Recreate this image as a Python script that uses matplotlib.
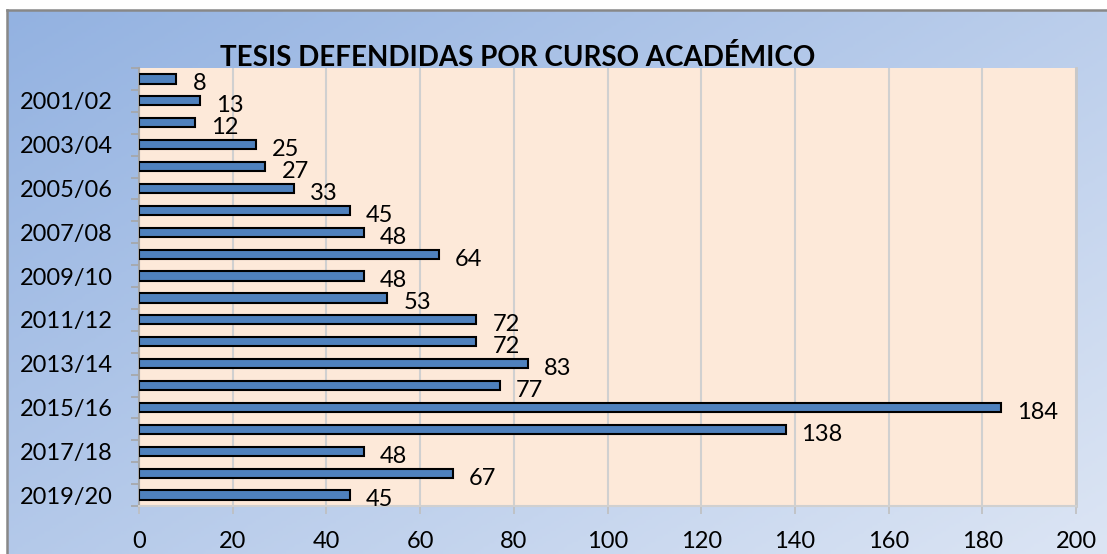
import numpy as np
import matplotlib
matplotlib.use('Agg')
import matplotlib.pyplot as plt
from matplotlib.colors import LinearSegmentedColormap
from matplotlib.lines import Line2D

# ── Data ──
cursos = ['2000/01', '2001/02', '2002/03', '2003/04', '2004/05', '2005/06',
          '2006/07', '2007/08', '2008/09', '2009/10', '2010/11', '2011/12',
          '2012/13', '2013/14', '2014/15', '2015/16', '2016/17', '2017/18',
          '2018/19', '2019/20']
tesis = [8, 13, 12, 25, 27, 33, 45, 48, 64, 48, 53, 72, 72, 83, 77, 184, 138,
         48, 67, 45]
titulo = 'TESIS DEFENDIDAS POR CURSO ACADÉMICO'

plt.rcParams['font.family'] = ['Lato', 'DejaVu Sans']

W, H = 1107, 554
fig = plt.figure(figsize=(W / 100, H / 100), dpi=100)
fig.patch.set_facecolor('white')

# ── Chart area: blue diagonal gradient with grey border ──
bg = fig.add_axes([7 / W, 0, (W - 7) / W, (H - 10) / H])
cmap = LinearSegmentedColormap.from_list('bg', ['#93B2E1', '#DCE5F4'])
yy, xx = np.mgrid[0:1:200j, 0:1:400j]
grad = 0.55 * xx + 0.45 * yy
bg.imshow(grad, cmap=cmap, aspect='auto', extent=[0, 1, 1, 0], origin='upper')
bg.set_xlim(0, 1)
bg.set_ylim(1, 0)
bg.axis('off')
fig.add_artist(Line2D([7 / W, 7 / W], [0, 1 - 10 / H], color='#888888',
                      linewidth=1.8, transform=fig.transFigure))
fig.add_artist(Line2D([7 / W, 1], [1 - 10 / H, 1 - 10 / H], color='#888888',
                      linewidth=1.8, transform=fig.transFigure))

# ── Plot area ──
x0, x1 = 139, 1076
y0, y1 = 68, 506
ax = fig.add_axes([x0 / W, 1 - y1 / H, (x1 - x0) / W, (y1 - y0) / H])
ax.set_facecolor('#FDE9D9')

ypos = np.arange(len(cursos))
ax.barh(ypos, tesis, height=0.42, color='#4F81BD', edgecolor='black',
        linewidth=1.5, zorder=3)

for y, v in zip(ypos, tesis):
    ax.annotate(str(v), (v, y), xytext=(11.5, -3.5), textcoords='offset points',
                ha='left', va='center', fontsize=17, color='black', zorder=4)

ax.set_xlim(0, 200)
ax.set_ylim(len(cursos) - 0.5, -0.5)
ax.set_xticks(np.arange(0, 201, 20))
ax.tick_params(axis='x', length=6, width=1.2, color='#BFBFBF', pad=12,
               labelsize=17)
ax.set_yticks(ypos[1::2])
ax.set_yticklabels(cursos[1::2])
ax.set_yticks(np.arange(-0.5, len(cursos)), minor=True)
ax.tick_params(axis='y', which='major', length=0, pad=19, labelsize=17)
ax.tick_params(axis='y', which='minor', length=6, width=1.2, color='#A6A6A6')
ax.xaxis.grid(True, color='#D0D0D0', linewidth=1.5, zorder=0)
ax.set_axisbelow(True)

ax.spines['top'].set_visible(False)
ax.spines['right'].set_color('#C8C8C8')
ax.spines['right'].set_linewidth(2)
ax.spines['left'].set_color('#A6A6A6')
ax.spines['left'].set_linewidth(1.5)
ax.spines['bottom'].set_color('#D0D0D0')
ax.spines['bottom'].set_linewidth(1.5)

fig.text(518 / W, 1 - 66 / H, titulo, ha='center', va='baseline',
         fontsize=20, fontweight='bold', color='black')

fig.savefig('out.png', dpi=100, facecolor='white')
